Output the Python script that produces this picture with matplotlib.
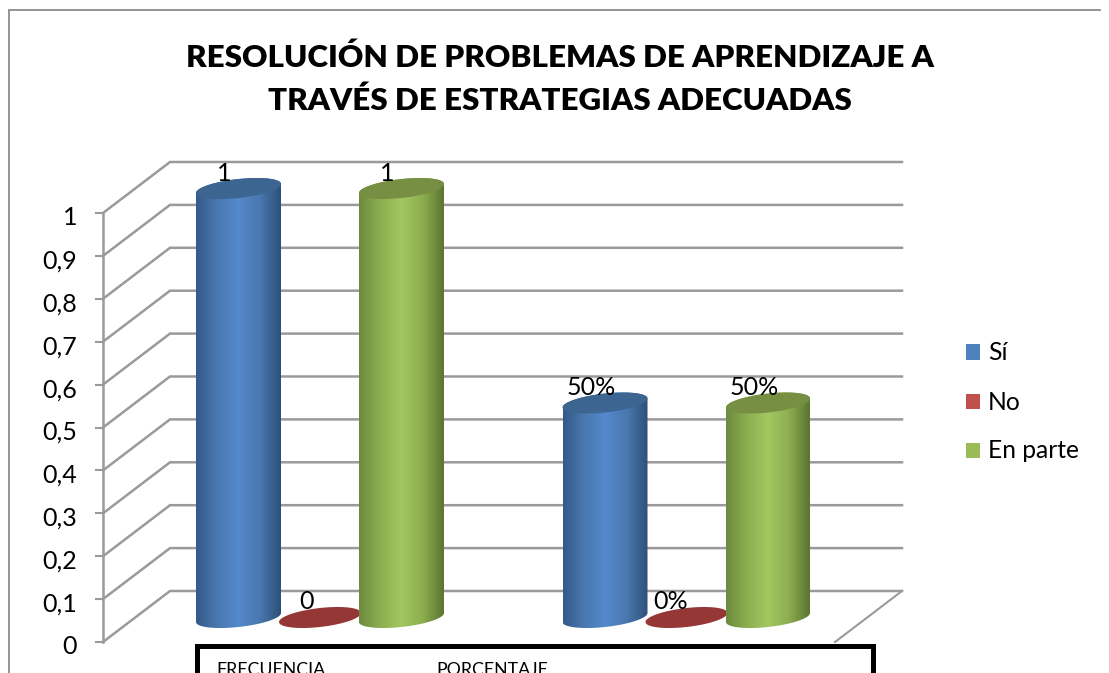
import numpy as np
import matplotlib
matplotlib.use('Agg')
import matplotlib.pyplot as plt
from matplotlib.colors import LinearSegmentedColormap
from matplotlib.patches import Polygon

plt.rcParams['font.family'] = ['Lato', 'DejaVu Sans']

title = 'RESOLUCIÓN DE PROBLEMAS DE APRENDIZAJE A\nTRAVÉS DE ESTRATEGIAS ADECUADAS'
groups = ['FRECUENCIA', 'PORCENTAJE']
series = ['Sí', 'No', 'En parte']
si = [1, 0.5]
no = [0, 0]
en_parte = [1, 0.5]
labels_si = ['1', '50%']
labels_no = ['0', '0%']
labels_en_parte = ['1', '50%']
ticks = [0, 0.1, 0.2, 0.3, 0.4, 0.5, 0.6, 0.7, 0.8, 0.9, 1]
tick_labels = ['0', '0,1', '0,2', '0,3', '0,4', '0,5', '0,6', '0,7', '0,8', '0,9', '1']

legend_colors = ['#4f81bd', '#c0504d', '#9bbb59']
side_colors = [['#335a88', '#4a78b0', '#5489cb', '#4a78b0', '#2e5078'],
               ['#7d2a28', '#953735', '#953735', '#953735', '#7d2a28'],
               ['#6d8a3e', '#8cae50', '#a4c860', '#8cae50', '#5c7430']]
top_colors = ['#3c6592', '#953735', '#778f43']

W, H = 1109, 673
sx = 366.5    # pixels per group
sy = 429.0    # pixels per unit of value
x0 = 320.0    # pixel of first group
y0 = 642.0    # pixel of value 0 on the front axis

fig = plt.figure(figsize=(W / 100, H / 100), dpi=100)
ax = fig.add_axes([0, 0, 1, 1])
ax.set_xlim(-x0 / sx, (W - x0) / sx)
ax.set_ylim(-(H - y0) / sy, y0 / sy)
ax.axis('off')

def dx(p):
    return p / sx

def dy(p):
    return p / sy

# chart border, no right side in the picture
border = '#8c8c8c'
ax.plot([dx(8.5 - x0), dx(8.5 - x0), dx(1100 - x0)],
        [-(H - y0) / sy, dy(y0 - 10), dy(y0 - 10)],
        color=border, lw=1.3, solid_joinstyle='miter')

# walls and gridlines
grid = '#9a9a9a'
left = dx(103 - x0)
back = dx(170 - x0)
right = dx(902 - x0)
depth = dy(51)
for t, lab in zip(ticks, tick_labels):
    ax.plot([left, back, right], [t, t + depth, t + depth], color=grid, lw=1.8, solid_joinstyle='miter', zorder=1)
    ax.plot([left - dx(7), left], [t, t], color=grid, lw=1.5, zorder=1)
    ax.text(left - dx(26), t - dy(5), lab, ha='right', va='center', fontsize=18, color='black')
ax.plot([left, left], [0, 1], color=grid, lw=1.8, zorder=1)
ax.plot([right, dx(835 - x0)], [depth, 0], color=grid, lw=1.5, zorder=1)

# cylinders
half_w = [42.5, 41, 42.5]
half_w2 = [42.5, 41, 42.0]
rx_tilt = 9.0   # rise of the ellipse across its width
ry = 9.5
spacing = 81.5 / sx
shift = dy(24.5)

def ellipse(xc, yc, a):
    th = np.linspace(0, 2 * np.pi, 100)
    px = a * np.cos(th)
    py = ry * np.sin(th) + rx_tilt / 2 * np.cos(th)
    return np.column_stack((xc + dx(px), yc + dy(py)))

values = [si, no, en_parte]
value_labels = [labels_si, labels_no, labels_en_parte]
for g in range(len(groups)):
    for s in range(len(series)):
        v = values[s][g]
        xc = g + (s - 1) * spacing
        a = half_w[s] if g == 0 else half_w2[s]
        yb = shift
        yt = v + shift
        zo = 3 if s != 1 else 2
        if v > 0:
            top = ellipse(xc, yt, a)
            # lower half of the bottom rim, upper half of the top rim
            th = np.linspace(np.pi, 2 * np.pi, 60)
            low = np.column_stack((xc + dx(a * np.cos(th)),
                                   yb + dy(ry * np.sin(th) + rx_tilt / 2 * np.cos(th))))
            th = np.linspace(0, np.pi, 60)
            up = np.column_stack((xc + dx(a * np.cos(th)),
                                  yt + dy(ry * np.sin(th) + rx_tilt / 2 * np.cos(th))))
            outline = Polygon(np.vstack((low, up)), closed=True, transform=ax.transData,
                              facecolor='none', edgecolor='none')
            ax.add_patch(outline)
            cmap = LinearSegmentedColormap.from_list('c', side_colors[s])
            grad = np.linspace(0, 1, 256).reshape(1, -1)
            im = ax.imshow(grad, cmap=cmap, extent=[xc - dx(a), xc + dx(a), yb - dy(20), yt + dy(20)],
                           aspect='auto', zorder=zo, interpolation='bilinear')
            im.set_clip_path(outline)
            ax.add_patch(Polygon(top, closed=True, facecolor=top_colors[s], edgecolor='none', zorder=zo + 0.5))
            lx, ly = 14, 15
        else:
            ax.add_patch(Polygon(ellipse(xc, yb, a), closed=True, facecolor=top_colors[s], edgecolor='none', zorder=zo))
            lx, ly = 14 if g == 0 else 16, 16
        ax.text(xc - dx(lx), yt + dy(ly), value_labels[s][g], ha='center', va='center',
                fontsize=18, color='black', zorder=6)

# legend drawn by hand to keep the spacing of the picture
leg_x = dx(966 - x0)
leg_y = [dy(y0 - 352), dy(y0 - 401), dy(y0 - 450)]
for name, col, yy in zip(series, legend_colors, leg_y):
    ax.add_patch(Polygon([[leg_x, yy - dy(7.5)], [leg_x + dx(14), yy - dy(7.5)],
                          [leg_x + dx(14), yy + dy(7.5)], [leg_x, yy + dy(7.5)]],
                         closed=True, facecolor=col, edgecolor='none'))
    ax.text(leg_x + dx(22), yy - dy(1), name, ha='left', va='center', fontsize=17.7, color='black')

# title
ax.text(dx(560 - x0), dy(y0 - 79), title, ha='center', va='center', fontsize=22.6, fontweight='heavy',
        color='black', linespacing=1.6)

# data table overlapping the bottom of the picture
bx0, bx1 = dx(197 - x0), dx(873 - x0)
by = dy(y0 - 646)
ax.plot([bx0, bx0, bx1, bx1], [-1, by, by, -1], color='black', lw=3.6, solid_joinstyle='miter', zorder=7)
ax.text(dx(216.5 - x0), dy(y0 - 662), groups[0], ha='left', va='top', fontsize=12.8, color='black', zorder=8)
ax.text(dx(436.5 - x0), dy(y0 - 662), groups[1], ha='left', va='top', fontsize=12.8, color='black', zorder=8)

ax.set_xlim(-x0 / sx, (W - x0) / sx)
ax.set_ylim(-(H - y0) / sy, y0 / sy)
fig.savefig('out.png', dpi=100)
